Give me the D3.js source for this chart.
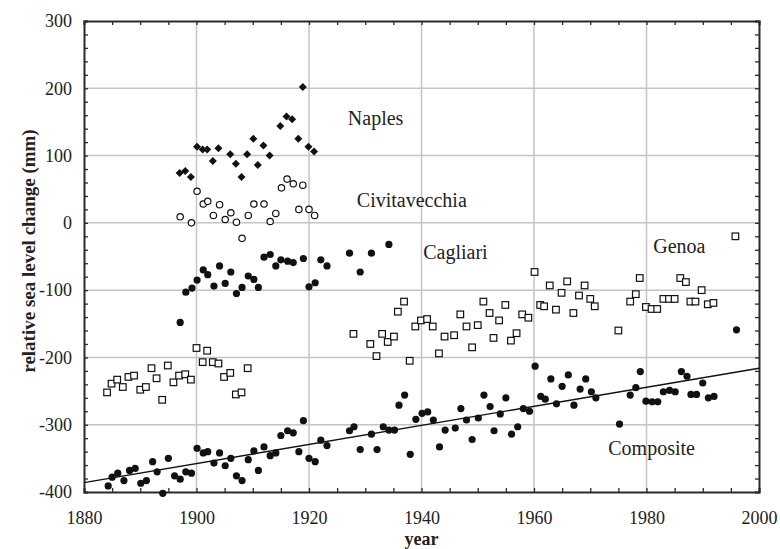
<!DOCTYPE html>
<html>
<head>
<meta charset="utf-8">
<script src="https://cdn.jsdelivr.net/npm/d3@7"></script>
<style>
  body { margin: 0; background: #fff; }
  svg text { font-family: "Liberation Serif", "Times New Roman", serif; }
</style>
</head>
<body>
<div id="chart"></div>
<script>
// data (year, mm)
const naplesYear = [1897.0,1898.0,1899.0,1900.1,1901.1,1901.9,1902.9,1903.9,1906.0,1907.0,1908.0,1909.0,1910.1,1910.9,1911.9,1913.0,1914.9,1916.0,1917.0,1918.1,1918.9,1919.9,1920.9];
const naplesVal = [74,77,68,113,109,109,92,111,102,88,68,102,125,86,115,100,144,158,154,125,202,113,106];

const civitaYear = [1897.1,1899.1,1900.1,1901.2,1902.0,1903.0,1904.1,1905.1,1906.1,1907.1,1908.1,1909.2,1910.2,1912.0,1913.1,1914.1,1915.1,1916.1,1917.2,1918.2,1918.9,1920.0,1921.0];
const civitaVal = [9,0,47,28,32,11,27,5,15,1,-23,11,28,28,2,14,52,65,58,20,56,20,11];

const cagliariYear = [1897.1,1898.1,1899.2,1900.1,1901.2,1902.0,1903.1,1904.1,1905.1,1906.1,1907.1,1908.1,1909.2,1910.2,1911.0,1912.0,1913.1,1914.1,1915.0,1916.2,1917.2,1919.0,1920.0,1921.1,1922.1,1923.2,1927.2,1929.1,1931.1,1934.2];
const cagliariVal = [-148,-103,-97,-85,-70,-77,-94,-64,-90,-73,-105,-96,-79,-84,-96,-51,-47,-64,-55,-57,-59,-53,-95,-89,-55,-64,-45,-73,-45,-32];

const genoaYear = [1884.1,1884.9,1885.9,1886.9,1887.9,1888.9,1890.0,1891.0,1892.0,1892.9,1893.9,1894.9,1895.9,1896.9,1898.0,1899.0,1900.0,1901.1,1901.9,1902.9,1903.9,1904.9,1906.0,1907.0,1908.0,1909.1,
  1927.9,1930.9,1932.0,1933.0,1934.0,1935.1,1935.8,1936.9,1937.9,1938.9,1939.9,1941.0,1942.0,1943.1,1944.1,1945.8,1946.9,1948.0,1949.0,1950.0,1951.0,1952.1,1952.8,1953.8,1954.9,1955.9,1956.9,1957.9,1959.0,1960.1,1961.1,1961.8,1962.8,1963.9,1964.9,1965.9,1967.0,1968.0,1969.0,1970.0,1970.8,1975.0,1977.1,1978.1,1978.8,1979.9,1980.9,1981.9,1983.0,1984.0,1985.0,1986.0,1987.0,1987.8,1988.7,1989.8,1990.9,1991.9,1995.8];
const genoaVal = [-252,-239,-233,-244,-229,-227,-248,-244,-216,-231,-263,-212,-237,-227,-225,-233,-186,-207,-190,-207,-209,-229,-223,-255,-252,-216,
  -165,-180,-198,-165,-177,-169,-132,-117,-205,-154,-145,-143,-154,-194,-169,-167,-136,-154,-185,-152,-117,-134,-171,-145,-122,-175,-164,-136,-141,-73,-122,-124,-93,-129,-104,-87,-134,-108,-93,-113,-124,-160,-117,-106,-82,-125,-128,-128,-113,-113,-113,-82,-88,-117,-117,-100,-121,-119,-20];

const compYear = [1884.3,1885.0,1886.0,1887.1,1888.1,1889.1,1890.1,1891.1,1892.2,1893.0,
  1894.0,1895.0,1896.1,1897.1,1898.1,1899.1,1900.1,1901.2,1902.0,1903.1,
  1904.1,1905.1,1906.1,1907.1,1908.1,1909.2,1910.2,1911.0,1912.0,1913.1,
  1914.1,1915.0,1916.2,1917.2,1918.2,1919.0,1920.0,1921.1,1922.1,1923.2,
  1927.2,1928.0,1929.1,1931.1,1932.1,1933.2,1934.2,1935.2,1936.0,1937.0,
  1938.0,1939.0,1940.1,1941.1,1942.1,1943.2,1944.2,1946.0,1947.0,1948.0,
  1949.0,1950.1,1951.1,1952.2,1952.9,1954.0,1955.0,1956.0,1957.1,1958.1,
  1959.2,1960.2,1961.2,1962.0,1963.0,1964.0,1965.0,1966.1,1967.1,1968.2,
  1969.2,1970.2,1971.0,1975.2,1977.1,1978.1,1978.9,1979.9,1981.0,1982.0,
  1983.0,1984.1,1985.1,1986.2,1987.2,1987.9,1988.9,1990.0,1991.0,1992.0,1996.0];
const compVal = [-391,-378,-372,-383,-368,-365,-387,-383,-355,-370,
  -402,-350,-376,-381,-370,-372,-335,-342,-340,-357,
  -342,-361,-350,-376,-383,-352,-339,-368,-333,-346,
  -342,-316,-309,-312,-340,-294,-350,-355,-323,-331,
  -309,-303,-337,-314,-337,-303,-308,-308,-271,-256,
  -344,-292,-283,-281,-293,-333,-308,-305,-276,-293,
  -322,-290,-256,-273,-309,-284,-260,-314,-303,-276,
  -280,-213,-258,-262,-232,-269,-243,-226,-271,-247,
  -232,-251,-260,-299,-256,-245,-221,-265,-266,-266,
  -251,-249,-251,-221,-228,-255,-255,-238,-260,-258,-159];

// fitted trend of the composite (end points)
const trendYear = [1880, 2000];
const trendVal = [-386, -216];

const xTicks = [1880, 1900, 1920, 1940, 1960, 1980, 2000];
const yTicks = [-400, -300, -200, -100, 0, 100, 200, 300];
const seriesNames = ["Naples", "Civitavecchia", "Cagliari", "Genoa", "Composite"];

(function() {
    const width = 780, height = 549;
    const margin = {top: 21, right: 21, bottom: 57, left: 84};
    const serif = "'Liberation Serif', 'Times New Roman', serif";

    const svg = d3.select("#chart").append("svg")
        .attr("width", width).attr("height", height);

    const x = d3.scaleLinear().domain([1880, 2000]).range([margin.left, width - margin.right]);
    const y = d3.scaleLinear().domain([-400, 300]).range([height - margin.bottom, margin.top]);

    const zip = (xs, ys) => xs.map((v, i) => ({year: v, val: ys[i]}));

    // grid
    const grid = svg.append("g").attr("stroke", "#c4c4c4").attr("stroke-width", 1.5);
    grid.selectAll(".gx").data(xTicks.slice(1, -1)).enter().append("line")
        .attr("x1", d => x(d)).attr("x2", d => x(d))
        .attr("y1", y(300)).attr("y2", y(-400));
    grid.selectAll(".gy").data(yTicks.slice(1, -1)).enter().append("line")
        .attr("x1", x(1880)).attr("x2", x(2000))
        .attr("y1", d => y(d)).attr("y2", d => y(d));

    // axes, ticks pointing inward on all four sides
    const minorX = d3.range(1880, 2001, 5);
    const minorY = d3.range(-400, 301, 20);
    const lab = list => d => list.includes(d) ? String(d) : "";

    const axB = svg.append("g").attr("transform", `translate(0,${y(-400)})`)
        .call(d3.axisBottom(x).tickValues(minorX).tickSize(-4).tickPadding(19).tickFormat(lab(xTicks)));
    const axT = svg.append("g").attr("transform", `translate(0,${y(300)})`)
        .call(d3.axisTop(x).tickValues(minorX).tickSize(-4).tickFormat(""));
    const axL = svg.append("g").attr("transform", `translate(${x(1880)},0)`)
        .call(d3.axisLeft(y).tickValues(minorY).tickSize(-4).tickPadding(12).tickFormat(lab(yTicks)));
    const axR = svg.append("g").attr("transform", `translate(${x(2000)},0)`)
        .call(d3.axisRight(y).tickValues(minorY).tickSize(-4).tickFormat(""));

    [axB, axT, axL, axR].forEach(g => {
        g.attr("font-family", serif).attr("font-size", 18);
        g.select(".domain").attr("stroke", "#2a2a2a").attr("stroke-width", 2);
        g.selectAll(".tick line").attr("stroke", "#2a2a2a").attr("stroke-width", 1.3);
        g.selectAll("text").attr("fill", "#222");
    });

    // trend line
    svg.append("path")
        .datum(zip(trendYear, trendVal))
        .attr("fill", "none").attr("stroke", "#111").attr("stroke-width", 1.4)
        .attr("d", d3.line().x(d => x(d.year)).y(d => y(d.val)));

    // series
    svg.append("g").selectAll("path").data(zip(naplesYear, naplesVal)).enter().append("path")
        .attr("transform", d => `translate(${x(d.year)},${y(d.val)}) rotate(45)`)
        .attr("d", d3.symbol(d3.symbolSquare, 32))
        .attr("fill", "#111");

    svg.append("g").selectAll("circle").data(zip(civitaYear, civitaVal)).enter().append("circle")
        .attr("cx", d => x(d.year)).attr("cy", d => y(d.val)).attr("r", 3.2)
        .attr("fill", "#fff").attr("stroke", "#111").attr("stroke-width", 1.2);

    svg.append("g").selectAll("circle").data(zip(cagliariYear, cagliariVal)).enter().append("circle")
        .attr("cx", d => x(d.year)).attr("cy", d => y(d.val)).attr("r", 3.6)
        .attr("fill", "#111");

    svg.append("g").selectAll("rect").data(zip(genoaYear, genoaVal)).enter().append("rect")
        .attr("x", d => x(d.year) - 3.3).attr("y", d => y(d.val) - 3.3)
        .attr("width", 6.6).attr("height", 6.6)
        .attr("fill", "#fff").attr("stroke", "#111").attr("stroke-width", 1.2);

    svg.append("g").selectAll("circle").data(zip(compYear, compVal)).enter().append("circle")
        .attr("cx", d => x(d.year)).attr("cy", d => y(d.val)).attr("r", 3.6)
        .attr("fill", "#111");

    // series labels
    const labelPos = [[1926.9, 145], [1928.5, 24], [1940.3, -53], [1981.2, -45], [1973.2, -345]];
    svg.append("g").selectAll("text").data(seriesNames).enter().append("text")
        .attr("x", (d, i) => x(labelPos[i][0]))
        .attr("y", (d, i) => y(labelPos[i][1]))
        .attr("fill", "#222")
        .style("font-size", "20px")
        .text(d => d);

    // axis titles
    svg.append("text")
        .attr("x", (x(1880) + x(2000)) / 2).attr("y", 545)
        .attr("text-anchor", "middle")
        .style("font-size", "18px").style("font-weight", "bold")
        .attr("fill", "#222")
        .text("year");

    svg.append("text")
        .attr("transform", "rotate(-90)")
        .attr("x", -251).attr("y", 35)
        .attr("text-anchor", "middle")
        .style("font-size", "19px").style("font-weight", "bold")
        .attr("fill", "#222")
        .text("relative sea level change (mm)");
})();
</script>
</body>
</html>
